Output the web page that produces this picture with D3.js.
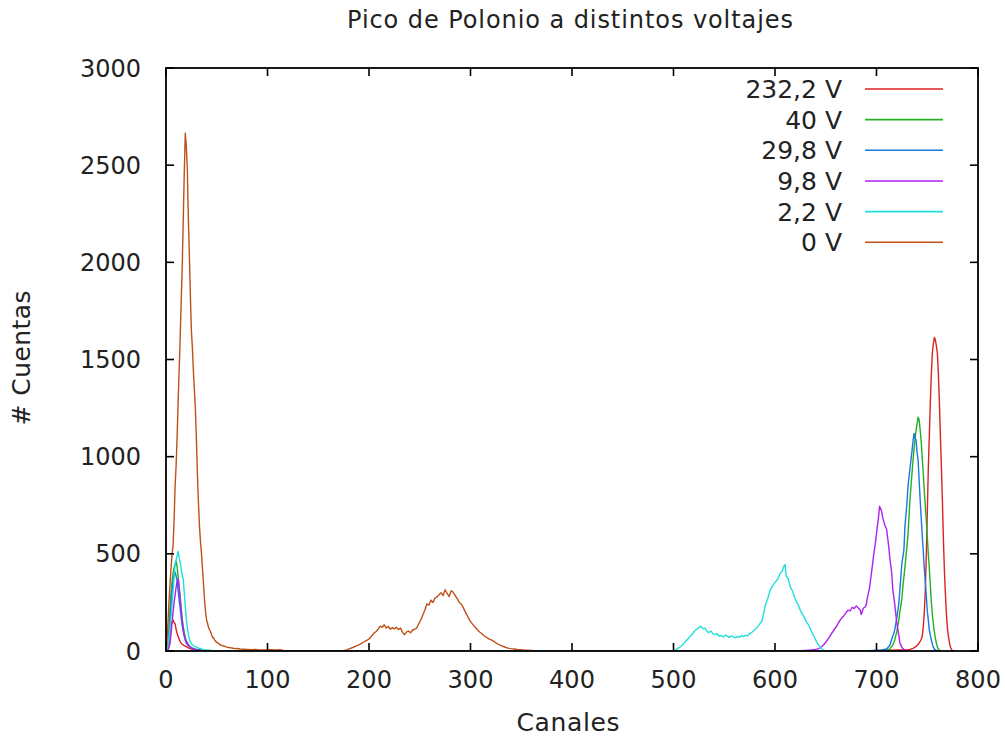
<!DOCTYPE html>
<html><head><meta charset="utf-8">
<script src="https://cdn.jsdelivr.net/npm/d3@7"></script>
<style>body{margin:0;background:#fff}text{font-family:"DejaVu Sans",sans-serif;fill:#222}</style>
</head><body><svg id="c" width="1005" height="738"></svg>
<script>
const xTicks=[0,100,200,300,400,500,600,700,800];
const yTicks=[0,500,1000,1500,2000,2500,3000];
const labels=["232,2 V","40 V","29,8 V","9,8 V","2,2 V","0 V"];
const colors=["#dd2222","#22b022","#1a78e0","#b020f0","#22dddd","#c05018"];

const v232=[[0,0],[2,5],[3,30],[4,80],[5,130],[6,150],[7,160],[8,145],[9,140],[10,110],[11,90],[12,74],[13,60],[14,48],[15,40],[16,34],[18,28],[20,22],[22,16],[24,12],[26,9],[30,5],[35,2],[40,0],
[96,0],[100,4],[104,6],[108,3],[112,5],[116,0],
[700,0],[705,3],[710,5],[715,4],[720,6],[725,5],[730,6],[733,8],[736,14],[738,20],[740,28],[742,40],[743,50],[744,60],[745,74],[746,120],[747,190],[748,300],[749,480],[750,700],[751,931],[752,1100],[753,1275],[754,1420],[755,1532],[756,1580],[757,1614],[758,1600],[759,1570],[760,1532],[761,1420],[762,1275],[763,1100],[764,931],[765,760],[766,560],[767,400],[768,280],[769,180],[770,110],[771,70],[772,40],[773,18],[774,6],[776,0]];

const v40=[[0,0],[2,40],[3,120],[4,220],[5,300],[6,360],[7,400],[8,430],[9,445],[10,462],[11,430],[12,380],[13,330],[14,280],[15,220],[16,165],[17,125],[18,95],[19,70],[20,52],[22,34],[24,22],[26,14],[30,8],[35,4],[40,0],
[700,0],[710,3],[713,10],[716,30],[718,57],[720,100],[722,160],[723,200],[725,270],[726,331],[728,430],[730,540],[731,600],[733,777],[734,850],[736,983],[737,1040],[739,1137],[740,1170],[741,1203],[742,1190],[743,1140],[744,1080],[745,1000],[746,920],[747,830],[748,750],[749,680],[750,590],[751,503],[752,430],[753,340],[754,255],[755,190],[756,140],[757,100],[758,65],[759,40],[760,20],[761,10],[763,0]];

const v298=[[0,0],[2,20],[3,80],[4,160],[5,240],[6,310],[7,360],[8,395],[9,405],[10,385],[11,360],[12,310],[13,260],[14,220],[15,170],[16,130],[17,100],[18,75],[19,55],[20,40],[22,28],[24,18],[26,12],[30,6],[35,3],[40,0],
[690,0],[700,4],[705,6],[710,10],[713,28],[715,60],[717,90],[718,110],[720,170],[722,245],[724,380],[725,450],[727,520],[728,640],[730,760],[731,846],[733,940],[735,1030],[736,1080],[737,1120],[738,1095],[739,1086],[740,1020],[741,983],[742,880],[743,780],[744,690],[745,600],[746,520],[747,430],[748,365],[749,290],[750,210],[751,160],[752,110],[753,80],[754,57],[755,35],[756,20],[757,10],[759,3],[762,0]];

const v98=[[0,0],[2,5],[4,40],[5,90],[6,150],[7,200],[8,250],[9,290],[10,330],[11,360],[12,370],[13,320],[14,260],[15,200],[16,150],[17,110],[18,80],[19,62],[20,48],[22,30],[24,20],[26,14],[28,10],[30,7],[34,4],[38,2],[42,0],
[620,0],[630,3],[636,5],[640,8],[643,12],[646,22],[648,32],[650,45],[652,60],[654,75],[656,92],[658,108],[660,122],[662,140],[664,158],[666,172],[668,182],[670,198],[672,210],[674,206],[676,225],[678,218],[680,232],[682,222],[684,210],[685,188],[687,220],[689,228],[690,240],[691,275],[693,320],[695,400],[697,486],[699,560],[700,605],[702,690],[703,745],[705,720],[706,690],[708,650],[710,625],[712,540],[713,485],[715,400],[716,320],[718,240],[720,145],[722,80],[723,42],[725,18],[727,8],[730,0]];

const v22=[[0,0],[1,10],[2,30],[3,70],[4,120],[5,180],[6,240],[7,310],[8,380],[9,450],[10,470],[11,490],[12,512],[13,480],[14,455],[15,420],[16,390],[17,370],[18,300],[19,230],[20,165],[21,120],[22,90],[23,60],[24,48],[25,38],[26,32],[27,28],[28,24],[30,20],[32,14],[34,12],[36,8],[38,6],[40,5],[45,3],[50,2],[55,0],
[498,0],[501,3],[504,12],[507,22],[510,38],[513,55],[516,72],[519,90],[521,104],[523,112],[525,120],[527,128],[529,115],[531,118],[533,100],[535,95],[537,102],[539,88],[541,84],[543,90],[545,76],[547,80],[549,72],[551,82],[553,76],[555,70],[557,78],[559,72],[561,68],[563,75],[565,70],[567,80],[569,74],[571,82],[573,78],[575,90],[577,95],[579,104],[581,114],[583,125],[585,140],[587,152],[589,200],[591,245],[593,272],[595,310],[597,330],[599,345],[601,360],[603,372],[605,400],[607,410],[609,440],[610,445],[611,385],[613,372],[615,330],[617,312],[619,280],[621,255],[623,236],[625,208],[627,190],[629,172],[631,150],[633,134],[635,112],[637,90],[639,68],[641,48],[643,30],[645,16],[647,5],[650,0]];

const v0=[[0,10],[1,60],[2,150],[3,260],[4,350],[5,430],[6,500],[7,545],[8,680],[9,850],[10,960],[11,1110],[12,1290],[13,1450],[14,1620],[15,1810],[16,1980],[17,2220],[18,2460],[19,2665],[20,2600],[21,2480],[22,2230],[23,2040],[24,1830],[25,1650],[26,1560],[27,1440],[28,1340],[29,1240],[30,1080],[31,900],[32,760],[33,640],[34,560],[35,500],[36,420],[37,340],[38,260],[39,200],[40,160],[41,140],[42,120],[43,108],[44,98],[45,82],[46,70],[47,66],[48,55],[49,50],[50,44],[52,38],[54,30],[56,27],[58,24],[60,20],[62,18],[64,16],[66,14],[68,12],[70,13],[73,10],[76,9],[80,8],[84,7],[88,8],[92,5],[96,6],[100,5],[104,7],[108,4],[112,6],[116,3],[120,1],[125,0],
[172,0],[175,2],[178,6],[181,12],[184,18],[187,25],[190,32],[193,40],[196,50],[199,58],[201,66],[203,80],[205,92],[207,100],[209,112],[211,128],[213,122],[215,135],[217,118],[219,126],[221,112],[223,120],[225,114],[227,122],[229,110],[231,118],[233,96],[235,84],[237,98],[239,102],[241,94],[243,108],[245,112],[247,118],[249,140],[251,160],[253,185],[255,210],[257,242],[259,236],[261,262],[263,250],[265,272],[267,278],[269,290],[271,300],[273,285],[275,315],[277,296],[279,280],[281,310],[283,302],[285,285],[287,268],[289,250],[291,240],[293,222],[295,200],[297,180],[299,160],[301,145],[303,132],[305,120],[307,108],[309,98],[311,90],[313,80],[315,72],[317,66],[319,60],[321,56],[323,50],[325,42],[327,36],[329,30],[331,26],[333,22],[335,18],[337,15],[340,12],[343,10],[346,8],[349,7],[352,5],[356,4],[360,3],[364,0]];

const series=[v232,v40,v298,v98,v22,v0];

const svg=d3.select("#c");
const L=166,R=978,T=68,B=651;
const x=d3.scaleLinear().domain([0,800]).range([L,R]);
const y=d3.scaleLinear().domain([0,3000]).range([B,T]);

svg.append("clipPath").attr("id","pc").append("rect").attr("x",L).attr("y",T).attr("width",R-L).attr("height",B-T);
const line=d3.line().x(d=>x(d[0])).y(d=>y(d[1]));
const g=svg.append("g").attr("clip-path","url(#pc)");
series.forEach((s,i)=>{
  g.append("path").datum(s).attr("d",line).attr("fill","none").attr("stroke",colors[i]).attr("stroke-width",1.4).attr("stroke-linejoin","round");
});

const tl=8;
const ax=svg.append("g").attr("stroke","#000").attr("stroke-width",1.6);
xTicks.forEach(t=>{
  ax.append("line").attr("x1",x(t)).attr("x2",x(t)).attr("y1",B).attr("y2",B-tl);
  ax.append("line").attr("x1",x(t)).attr("x2",x(t)).attr("y1",T).attr("y2",T+tl);
});
yTicks.forEach(t=>{
  ax.append("line").attr("x1",L).attr("x2",L+tl).attr("y1",y(t)).attr("y2",y(t));
  ax.append("line").attr("x1",R).attr("x2",R-tl).attr("y1",y(t)).attr("y2",y(t));
});
svg.append("rect").attr("x",L).attr("y",T).attr("width",R-L).attr("height",B-T).attr("fill","none").attr("stroke","#000").attr("stroke-width",1.8);

const fs=24;
svg.append("g").selectAll("text").data(xTicks).join("text")
  .attr("x",d=>x(d)).attr("y",B+37).attr("text-anchor","middle").attr("font-size",fs).text(d=>d);
svg.append("g").selectAll("text").data(yTicks).join("text")
  .attr("x",L-25).attr("y",d=>y(d)).attr("dy","0.36em").attr("text-anchor","end").attr("font-size",fs).text(d=>d);

svg.append("text").attr("x",570).attr("y",28).attr("text-anchor","middle").attr("font-size",24).attr("textLength",446).attr("lengthAdjust","spacing").text("Pico de Polonio a distintos voltajes");
svg.append("text").attr("x",568).attr("y",731).attr("text-anchor","middle").attr("font-size",25).attr("textLength",103).attr("lengthAdjust","spacing").text("Canales");
svg.append("text").attr("transform","translate(30,358) rotate(-90)").attr("text-anchor","middle").attr("font-size",25).attr("textLength",135).attr("lengthAdjust","spacing").text("# Cuentas");

const lg=svg.append("g");
labels.forEach((lab,i)=>{
  const yy=89+i*30.65;
  lg.append("text").attr("x",842).attr("y",yy).attr("dy","0.36em").attr("text-anchor","end").attr("font-size",25).text(lab);
  lg.append("line").attr("x1",865).attr("x2",943).attr("y1",yy).attr("y2",yy).attr("stroke",colors[i]).attr("stroke-width",1.6);
});
</script></body></html>
